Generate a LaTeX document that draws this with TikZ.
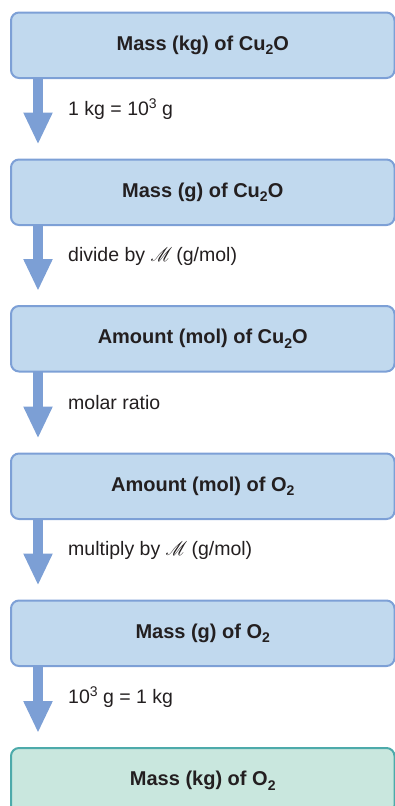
\documentclass[tikz,border=0pt]{standalone}
\usepackage{fontspec}
\setmainfont{Liberation Sans}
\usepackage{mathrsfs}
\usepackage{graphicx}
\usetikzlibrary{arrows.meta,calc}
\definecolor{boxfill}{HTML}{C1D9EE}
\definecolor{boxline}{HTML}{7DA0D6}
\definecolor{arrowc}{HTML}{7C9FD5}
\definecolor{endfill}{HTML}{C9E7DE}
\definecolor{endline}{HTML}{4DAAAA}
\definecolor{txt}{HTML}{231F20}
\newcommand{\mysup}[1]{\raisebox{0.36em}{\fontsize{14}{14}\selectfont #1}}
\newcommand{\mysub}[1]{\raisebox{-0.22em}{\fontsize{14}{14}\selectfont\bfseries #1}}
\newcommand{\molM}{\scalebox{0.85}[0.95]{$\mathscr{M}$}\hspace{-1.5pt}}
\begin{document}
\begin{tikzpicture}[x=1pt,y=-1pt,
  stepbox/.style={draw=boxline, fill=boxfill, line width=2pt, rounded corners=8pt,
    minimum width=383.5pt, minimum height=65.5pt, inner sep=0pt, anchor=north west,
    font=\fontsize{20}{24}\selectfont\bfseries, text=txt},
  endbox/.style={stepbox, draw=endline, fill=endfill},
  flowarrow/.style={draw=arrowc, line width=10pt, -{Triangle[width=27pt,length=32pt]}},
  steplabel/.style={anchor=west, inner sep=0pt, font=\fontsize{19.5}{23}\selectfont, text=txt}]
\useasboundingbox (0,0) rectangle (395,806);
\node[stepbox] (b1) at (10,11.5) {Mass (kg) of Cu\mysub{2}O};
\node[stepbox] (b2) at (10,158.5) {Mass (g) of Cu\mysub{2}O};
\node[stepbox] (b3) at (10,305) {Amount (mol) of Cu\mysub{2}O};
\node[stepbox] (b4) at (10,452.5) {Amount (mol) of O\mysub{2}};
\node[stepbox] (b5) at (10,599.5) {Mass (g) of O\mysub{2}};
\node[endbox] (b6) at (10,747) {Mass (kg) of O\mysub{2}};
\foreach \a/\b in {b1/b2,b2/b3,b3/b4,b4/b5,b5/b6}{
  \coordinate (s\a) at ($(\a.south west)+(28,-1)$);
  \coordinate (e\a) at ($(\b.north west)+(28,-14)$);
  \draw[flowarrow] (s\a) -- (e\a);
}
\node[steplabel] (l1) at (68,109) {1 kg = 10\mysup{3} g};
\node[steplabel] (l2) at (68,256) {divide by \molM{} (g/mol)};
\node[steplabel] (l3) at (68,403) {molar ratio};
\node[steplabel] (l4) at (68,550) {multiply by \molM{} (g/mol)};
\node[steplabel] (l5) at (68,697) {10\mysup{3} g = 1 kg};
\end{tikzpicture}
\end{document}
